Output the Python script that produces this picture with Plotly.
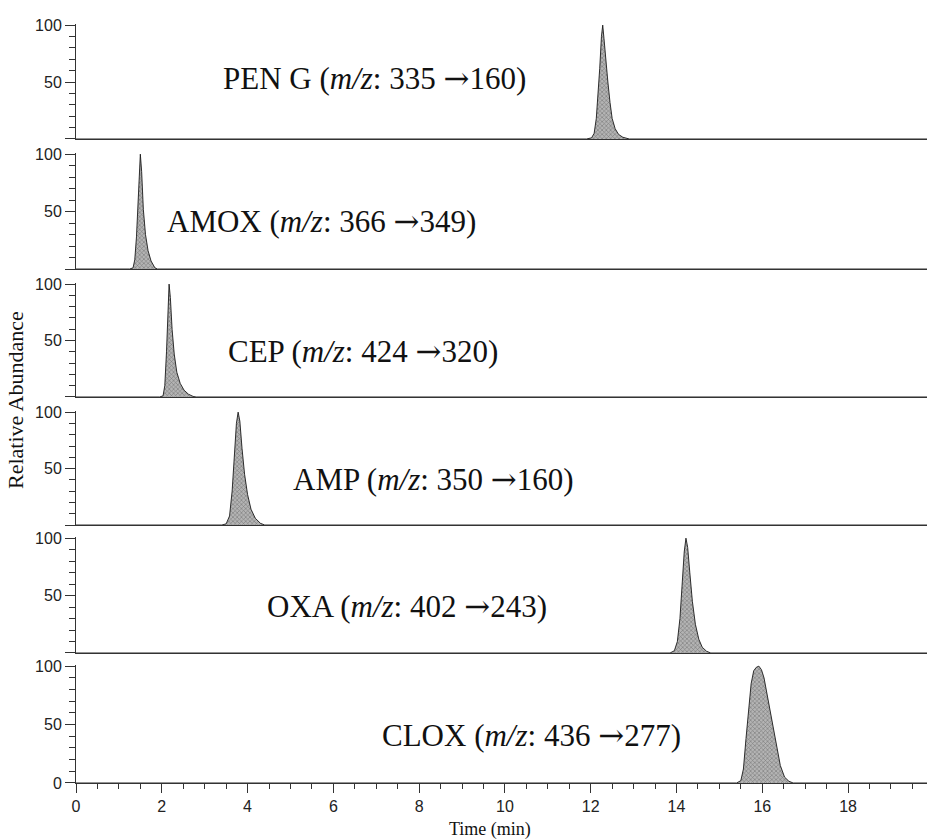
import plotly.graph_objects as go

# ---------------- data ----------------
run_range = [0, 19.84]  # acquisition time span (min)

compounds = ["PEN G", "AMOX", "CEP", "AMP", "OXA", "CLOX"]
trans_from = ["335", "366", "424", "350", "402", "436"]
trans_to = ["160", "349", "320", "160", "243", "277"]

pen_t = [11.9, 12.02, 12.08, 12.13, 12.17, 12.21, 12.25, 12.28, 12.31, 12.35, 12.40, 12.45, 12.50, 12.57, 12.65, 12.75, 12.9]
pen_y = [0, 1, 5, 18, 38, 62, 90, 100, 88, 68, 50, 32, 18, 9, 4, 1.5, 0]

amox_t = [1.25, 1.33, 1.37, 1.41, 1.45, 1.48, 1.50, 1.53, 1.57, 1.62, 1.68, 1.75, 1.84, 1.9]
amox_y = [0, 1, 8, 28, 65, 95, 100, 85, 52, 30, 16, 7, 1, 0]

cep_t = [1.95, 2.03, 2.07, 2.11, 2.14, 2.17, 2.20, 2.24, 2.29, 2.35, 2.43, 2.52, 2.62, 2.73, 2.8]
cep_y = [0, 1, 10, 40, 80, 100, 88, 60, 38, 22, 12, 6, 2.5, 0.5, 0]

amp_t = [3.4, 3.5, 3.58, 3.64, 3.69, 3.74, 3.78, 3.82, 3.87, 3.93, 4.0, 4.08, 4.18, 4.3, 4.4]
amp_y = [0, 1, 8, 30, 60, 90, 100, 92, 68, 45, 27, 14, 6, 1.5, 0]

oxa_t = [13.85, 13.95, 14.02, 14.08, 14.13, 14.18, 14.22, 14.26, 14.31, 14.37, 14.44, 14.52, 14.6, 14.7, 14.8]
oxa_y = [0, 2, 10, 30, 58, 88, 100, 92, 70, 45, 25, 12, 5, 1.5, 0]

clox_t = [15.4, 15.5, 15.56, 15.62, 15.68, 15.74, 15.8, 15.86, 15.92, 15.98, 16.04, 16.1, 16.17, 16.25, 16.33, 16.42, 16.52, 16.62, 16.72]
clox_y = [0, 2, 12, 38, 65, 85, 96, 99, 100, 97, 90, 78, 65, 50, 32, 15, 5, 1.5, 0]

peaks_t = [pen_t, amox_t, cep_t, amp_t, oxa_t, clox_t]
peaks_y = [pen_y, amox_y, cep_y, amp_y, oxa_y, clox_y]

# label positions (time, relative abundance) inside each panel
label_x = [6.97, 5.73, 6.69, 8.33, 7.72, 10.61]
label_y = [54, 42, 41, 41, 41, 41]

# ---------------- layout geometry ----------------
domains = [
    [0.8485, 1.0],
    [0.6772, 0.8300],
    [0.5086, 0.6588],
    [0.3399, 0.4901],
    [0.1713, 0.3241],
    [0.0, 0.1555],
]

fig = go.Figure()
tickfont = dict(family="Liberation Sans, Arial, sans-serif", size=16, color="#222")
serif = "Liberation Serif, Times New Roman, serif"

annotations = []
n = len(compounds)
for i in range(n):
    k = "" if i == 0 else str(i + 1)
    xs = [run_range[0]] + peaks_t[i] + [run_range[1]]
    ys = [0] + peaks_y[i] + [0]
    fig.add_trace(go.Scatter(
        x=xs, y=ys, mode="lines", fill="tozeroy",
        fillcolor="#929292",
        fillpattern=dict(shape="x", fgcolor="#3a3a3a", bgcolor="#b4b4b4",
                         size=3, solidity=0.35),
        line=dict(color="#1a1a1a", width=0.9),
        xaxis="x" + k, yaxis="y" + k, showlegend=False, hoverinfo="skip"))
    last = i == n - 1
    xa = dict(
        domain=[0, 1], range=run_range, anchor="y" + k,
        showline=True, linecolor="#333", linewidth=1.2,
        showgrid=False, zeroline=False,
    )
    if last:
        xa.update(ticks="outside", ticklen=9, tickwidth=1, tickcolor="#333",
                  dtick=2, tick0=0, tickfont=tickfont,
                  minor=dict(dtick=0.5, ticks="outside", ticklen=5, tickcolor="#333"))
    else:
        xa.update(showticklabels=False, ticks="", matches="x")
    ya = dict(
        domain=domains[i], range=[0, 101], anchor="x" + k,
        showline=True, linecolor="#333", linewidth=1,
        showgrid=False, zeroline=False,
        tickvals=[0, 50, 100],
        ticktext=["0" if last else "", "50", "100"],
        ticks="outside", ticklen=10, tickwidth=1, tickcolor="#333",
        tickfont=tickfont,
        minor=dict(dtick=10, tick0=0, ticks="outside", ticklen=6, tickcolor="#333"),
    )
    fig.layout["xaxis" + k] = xa
    fig.layout["yaxis" + k] = ya
    text = (f"{compounds[i]} (<i>m/z</i>: {trans_from[i]} "
            f"<span style='font-family:DejaVu Serif'>→</span>{trans_to[i]})")
    annotations.append(dict(
        x=label_x[i], y=label_y[i], xref="x" + k, yref="y" + k,
        text=text,
        showarrow=False, xanchor="center", yanchor="middle",
        font=dict(family=serif, size=31, color="#111")))

annotations.append(dict(
    x=-0.0717, y=0.5046, xref="paper", yref="paper", text="Relative Abundance",
    textangle=-90, showarrow=False, xanchor="center", yanchor="middle",
    font=dict(family=serif, size=22, color="#111")))
annotations.append(dict(
    x=0.4865, y=-0.0619, xref="paper", yref="paper", text="Time (min)",
    showarrow=False, xanchor="center", yanchor="middle",
    font=dict(family=serif, size=18, color="#111")))

fig.update_layout(
    width=927, height=840,
    margin=dict(l=76, r=0, t=24, b=57),
    paper_bgcolor="white", plot_bgcolor="white",
    annotations=annotations,
)

fig.write_html("out.html")
